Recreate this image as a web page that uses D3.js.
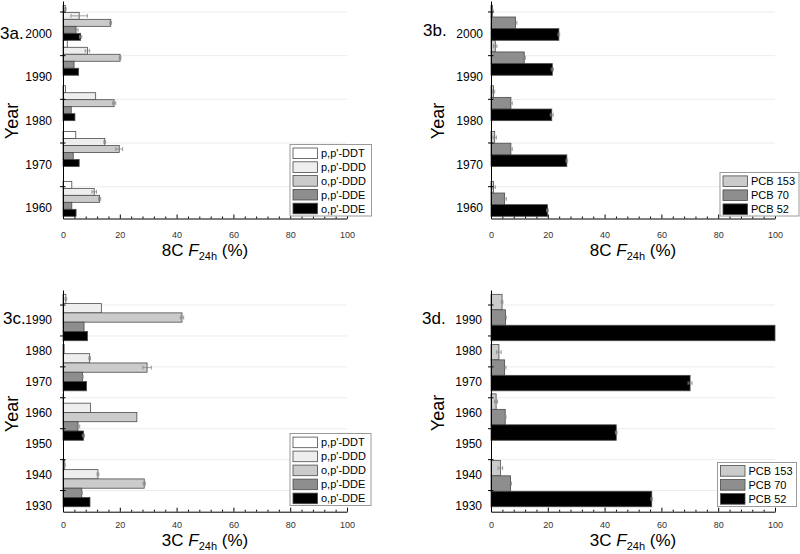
<!DOCTYPE html>
<html><head><meta charset="utf-8">
<script src="https://cdn.jsdelivr.net/npm/d3@7/dist/d3.min.js"></script>
<style>body{margin:0;background:#fff}svg{display:block;font-family:"Liberation Sans",Arial,sans-serif}</style>
</head><body><svg id="c" width="800" height="554"></svg>
<script>
// ---------- data ----------
const panelLabels = ["3a.", "3b.", "3c.", "3d."];
const xAxisPrefixes = ["8C", "8C", "3C", "3C"];
const xTicks = [0, 20, 40, 60, 80, 100];
const xMinorTicks = [4, 8, 12, 16, 24, 28, 32, 36, 44, 48, 52, 56, 64, 68, 72, 76, 84, 88, 92, 96];

const yearLabelsTop = [1960, 1970, 1980, 1990, 2000];
const yearGridTop = [1965, 1975, 1985, 1995, 2005];
const yearLabelsBottom = [1930, 1940, 1950, 1960, 1970, 1980, 1990];
const yearGridBottom = [1935, 1945, 1955, 1965, 1975, 1985, 1995];

const sampleYearsTop = [1962.1, 1973.5, 1984.0, 1994.4, 2002.4];
const sampleYearsBottom = [1937.1, 1958.6, 1974.6, 1990.8];

const ddtNames = ["p,p'-DDT", "p,p'-DDD", "o,p'-DDD", "p,p'-DDE", "o,p'-DDE"];
const pcbNames = ["PCB 153", "PCB 70", "PCB 52"];
const ddtColors = ["#ffffff", "#eeeeee", "#cbcbcb", "#8e8e8e", "#000000"];
const pcbColors = ["#cbcbcb", "#8e8e8e", "#000000"];

// 3a (8C, DDTs) values per series, in sampleYearsTop order
const a_ppDDT = [3.1, 4.5, 0.9, 1.5, 0.8];
const a_ppDDD = [11.0, 14.7, 11.5, 8.6, 5.7];
const a_opDDD = [12.9, 19.8, 18.0, 20.1, 16.8];
const a_ppDDE = [3.1, 3.6, 2.9, 3.9, 4.6];
const a_opDDE = [4.6, 5.7, 4.2, 5.5, 6.2];
const a_err_ppDDT = [0, 0, 0, 0, 0.3];
const a_err_ppDDD = [0.8, 0.3, 0, 0.8, 2.9];
const a_err_opDDD = [0.4, 1.2, 0.6, 0.3, 0.3];
const a_err_ppDDE = [0, 0, 0, 0, 0.7];
const a_err_opDDE = [0, 0, 0, 0, 0.4];

// 3b (8C, PCBs)
const b_pcb153 = [0.9, 1.3, 0.9, 1.5, 0.5];
const b_pcb70 = [4.8, 7.0, 7.0, 11.7, 8.6];
const b_pcb52 = [19.9, 26.7, 21.4, 21.6, 23.9];
const b_err_pcb153 = [0.6, 0.6, 0.4, 0.6, 0.3];
const b_err_pcb70 = [0.6, 0.5, 0.5, 0.4, 0.5];
const b_err_pcb52 = [0.3, 0.3, 0.5, 0.4, 0.3];

// 3c (3C, DDTs) in sampleYearsBottom order
const c_ppDDT = [0.6, 0.2, 0.4, 1.0];
const c_ppDDD = [12.3, 9.7, 9.4, 13.5];
const c_opDDD = [28.6, 26.0, 29.6, 41.9];
const c_ppDDE = [6.6, 5.3, 6.9, 7.4];
const c_opDDE = [9.5, 7.2, 8.3, 8.6];
const c_err_ppDDT = [0.2, 0, 0, 0.3];
const c_err_ppDDD = [0.3, 0, 0.3, 0];
const c_err_opDDD = [0.4, 0, 1.5, 0.6];
const c_err_ppDDE = [0.2, 0.6, 0.2, 0];
const c_err_opDDE = [0, 0.4, 0, 0];

// 3d (3C, PCBs)
const d_pcb153 = [3.3, 1.8, 2.8, 3.9];
const d_pcb70 = [6.9, 5.0, 4.8, 5.1];
const d_pcb52 = [56.6, 44.1, 70.1, 100.0];
const d_err_pcb153 = [0.8, 0.5, 0.8, 0.3];
const d_err_pcb70 = [0.3, 0.3, 0.5, 0.3];
const d_err_pcb52 = [0.3, 0.3, 0.7, 0];

// ---------- layout ----------
const svg = d3.select("#c");
const panels = [
  {label: panelLabels[0], prefix: xAxisPrefixes[0], x0: 63, x1: 347, yB: 218.5, yT: 1, dom: [1957.6, 2007.4],
   labels: yearLabelsTop, grid: yearGridTop, years: sampleYearsTop, gw: 8,
   names: ddtNames, colors: ddtColors,
   values: [a_ppDDT, a_ppDDD, a_opDDD, a_ppDDE, a_opDDE],
   errors: [a_err_ppDDT, a_err_ppDDD, a_err_opDDD, a_err_ppDDE, a_err_opDDE],
   lab: [0, 33], yearT: [12, 121], labPad: 11, tickPad: 13.5, titleY: 256,
   leg: {x: 290, y: 144.5, w: 81.5, h: 71.5, first: 8.8, step: 13.8}},
  {label: panelLabels[1], prefix: xAxisPrefixes[1], x0: 491, x1: 775, yB: 218.5, yT: 1, dom: [1957.6, 2007.4],
   labels: yearLabelsTop, grid: yearGridTop, years: sampleYearsTop, gw: 8,
   names: pcbNames, colors: pcbColors,
   values: [b_pcb153, b_pcb70, b_pcb52],
   errors: [b_err_pcb153, b_err_pcb70, b_err_pcb52],
   lab: [423, 30], yearT: [438, 121], labPad: 8, tickPad: 13.5, titleY: 256,
   leg: {x: 720, y: 172.5, w: 79, h: 43.5, first: 8.7, step: 14}},
  {label: panelLabels[2], prefix: xAxisPrefixes[2], x0: 63, x1: 347, yB: 511.7, yT: 290, dom: [1928, 1999.7],
   labels: yearLabelsBottom, grid: yearGridBottom, years: sampleYearsBottom, gw: 15,
   names: ddtNames, colors: ddtColors,
   values: [c_ppDDT, c_ppDDD, c_opDDD, c_ppDDE, c_opDDE],
   errors: [c_err_ppDDT, c_err_ppDDD, c_err_opDDD, c_err_ppDDE, c_err_opDDE],
   lab: [3, 318], yearT: [12, 414], labPad: 11, tickPad: 9.5, titleY: 545.5,
   leg: {x: 290, y: 433.5, w: 81, h: 72, first: 8.9, step: 14}},
  {label: panelLabels[3], prefix: xAxisPrefixes[3], x0: 491, x1: 775, yB: 511.7, yT: 290, dom: [1928, 1999.7],
   labels: yearLabelsBottom, grid: yearGridBottom, years: sampleYearsBottom, gw: 15,
   names: pcbNames, colors: pcbColors,
   values: [d_pcb153, d_pcb70, d_pcb52],
   errors: [d_err_pcb153, d_err_pcb70, d_err_pcb52],
   lab: [422, 318], yearT: [438, 413], labPad: 9, tickPad: 9.5, titleY: 545.5,
   leg: {x: 717.5, y: 462.5, w: 79, h: 44, first: 8.4, step: 14}}
];

panels.forEach(p => {
  const x = d3.scaleLinear().domain([0, 100]).range([p.x0, p.x1]);
  const y = d3.scaleLinear().domain(p.dom).range([p.yB, p.yT]);
  const g = svg.append("g");

  // grid lines
  g.append("g").selectAll("line").data(p.grid).join("line")
    .attr("x1", x(0)).attr("x2", x(100))
    .attr("y1", d => y(d) + 0.5).attr("y2", d => y(d) + 0.5)
    .attr("stroke", "#ececec").attr("stroke-width", 1);

  // bars
  const n = p.names.length, slot = p.gw / n;
  const barsG = g.append("g");
  const errG = g.append("g");
  p.names.forEach((name, i) => {
    const rows = p.years.map((yr, j) => ({yc: yr + p.gw / 2 - slot * (i + 0.5), v: p.values[i][j], e: p.errors[i][j]}));
    barsG.append("g").selectAll("rect").data(rows).join("rect")
      .attr("x", x(0))
      .attr("y", d => y(d.yc + slot / 2))
      .attr("width", d => x(d.v) - x(0))
      .attr("height", d => y(d.yc - slot / 2) - y(d.yc + slot / 2))
      .attr("fill", p.colors[i]).attr("stroke", "#4a4a4a").attr("stroke-width", 0.8);
    const er = rows.filter(d => d.e > 0);
    errG.append("g").selectAll("line").data(er).join("line")
      .attr("x1", d => x(d.v - d.e)).attr("x2", d => x(d.v + d.e))
      .attr("y1", d => y(d.yc)).attr("y2", d => y(d.yc))
      .attr("stroke", "#888").attr("stroke-width", 0.8);
    [-1, 1].forEach(s => {
      errG.append("g").selectAll("line").data(er).join("line")
        .attr("x1", d => x(d.v + s * d.e)).attr("x2", d => x(d.v + s * d.e))
        .attr("y1", d => y(d.yc) - 2).attr("y2", d => y(d.yc) + 2)
        .attr("stroke", "#888").attr("stroke-width", 0.8);
    });
  });

  // x axis
  const xa = g.append("g").attr("transform", `translate(0,${p.yB})`)
    .call(d3.axisBottom(x).tickValues(xTicks).tickSizeInner(-4).tickSizeOuter(0).tickPadding(p.tickPad));
  xa.select(".domain").attr("stroke", "#000");
  xa.selectAll(".tick line").attr("stroke", "#000");
  xa.selectAll("text").attr("font-size", 9).attr("fill", "#333").attr("font-family", "'Liberation Sans', Arial, sans-serif");
  const xm = g.append("g").attr("transform", `translate(0,${p.yB})`)
    .call(d3.axisBottom(x).tickValues(xMinorTicks).tickSizeInner(-2).tickSizeOuter(0).tickFormat(""));
  xm.select(".domain").remove();
  xm.selectAll(".tick line").attr("stroke", "#000");

  // y axis: ticks at grid years, labels at decades
  const ya = g.append("g").attr("transform", `translate(${p.x0},0)`)
    .call(d3.axisLeft(y).tickValues(p.grid.filter(v => v <= p.dom[1])).tickSizeInner(3).tickSizeOuter(0).tickFormat(""));
  ya.select(".domain").attr("stroke", "#000");
  ya.selectAll(".tick line").attr("stroke", "#000").attr("x2", -3).attr("x1", 2.5);
  const yl = g.append("g").attr("transform", `translate(${p.x0},0)`)
    .call(d3.axisLeft(y).tickValues(p.labels).tickSize(0).tickPadding(p.labPad).tickFormat(d3.format("d")));
  yl.select(".domain").remove();
  yl.selectAll("text").attr("font-size", 12).attr("fill", "#000").attr("font-family", "'Liberation Sans', Arial, sans-serif");

  // panel label
  g.append("text").attr("x", p.lab[0]).attr("y", p.lab[1]).attr("dominant-baseline", "central")
    .attr("font-size", 17).text(p.label);

  // Year title
  g.append("text").attr("transform", `translate(${p.yearT[0]},${p.yearT[1]}) rotate(-90)`)
    .attr("text-anchor", "middle").attr("dominant-baseline", "central").attr("font-size", 18).text("Year");

  // x title
  const t = g.append("text").attr("x", (p.x0 + p.x1) / 2).attr("y", p.titleY)
    .attr("text-anchor", "middle").attr("font-size", 17);
  t.append("tspan").text(p.prefix + " ");
  t.append("tspan").attr("font-style", "italic").text("F");
  t.append("tspan").attr("font-size", 11).attr("dy", 4).text("24h");
  t.append("tspan").attr("dy", -4).text(" (%)");

  // legend
  const L = p.leg;
  const lg = g.append("g");
  lg.append("rect").attr("x", L.x).attr("y", L.y).attr("width", L.w).attr("height", L.h)
    .attr("fill", "#fff").attr("stroke", "#9a9a9a").attr("stroke-width", 1);
  const items = lg.selectAll("g.it").data(p.names).join("g").attr("class", "it")
    .attr("transform", (d, i) => `translate(${L.x},${L.y + L.first + i * L.step})`);
  items.append("rect").attr("x", 3).attr("y", -5.3).attr("width", 24.5).attr("height", 10.6)
    .attr("fill", (d, i) => p.colors[i]).attr("stroke", "#4a4a4a").attr("stroke-width", 0.8);
  items.append("text").attr("x", 31).attr("y", 0).attr("dominant-baseline", "central")
    .attr("font-size", 11).text(d => d);
});
</script></body></html>
